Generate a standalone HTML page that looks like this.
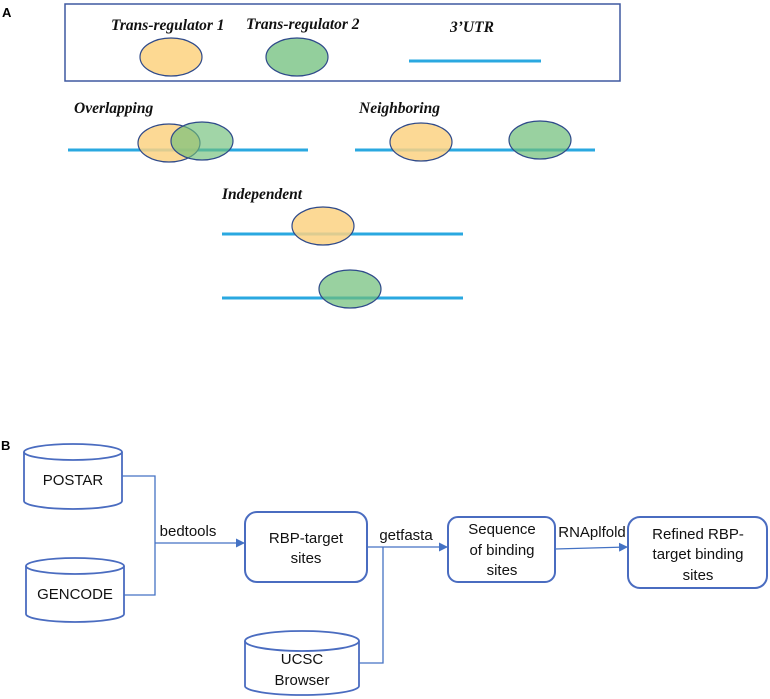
<!DOCTYPE html>
<html><head><meta charset="utf-8"><style>html,body{margin:0;padding:0;background:#fff;overflow:hidden}svg{display:block}</style></head>
<body>
<svg width="770" height="699" viewBox="0 0 770 699" xmlns="http://www.w3.org/2000/svg">
<defs>
<marker id="ar" markerWidth="9" markerHeight="9" refX="8" refY="4.5" orient="auto" markerUnits="userSpaceOnUse"><path d="M0,0 L9,4.5 L0,9 z" fill="#4472c4"/></marker>
</defs>
<g font-family="Liberation Sans, Arial, sans-serif" font-weight="bold" font-size="13">
<text x="2" y="17">A</text><text x="1" y="450">B</text></g>
<!-- Panel A -->
<rect x="65" y="4" width="555" height="77" fill="none" stroke="#3f58a0" stroke-width="1.5"/>
<g font-family="Liberation Serif, serif" font-style="italic" font-weight="bold" font-size="15.5" fill="#111">
<text x="111" y="30">Trans-regulator 1</text>
<text x="246" y="29">Trans-regulator 2</text>
<text x="450" y="32">3’UTR</text>
<text x="74" y="113">Overlapping</text>
<text x="359" y="113">Neighboring</text>
<text x="222" y="199">Independent</text>
</g>
<g stroke="#2aa8e0" stroke-width="3">
<line x1="409" y1="61" x2="541" y2="61"/>
<line x1="68" y1="150" x2="308" y2="150"/>
<line x1="355" y1="150" x2="595" y2="150"/>
<line x1="222" y1="234" x2="463" y2="234"/>
<line x1="222" y1="298" x2="463" y2="298"/>
</g>
<g stroke="#2f4a8a" stroke-width="1.2">
<ellipse cx="171" cy="57" rx="31" ry="19" fill="#fdd992"/>
<ellipse cx="297" cy="57" rx="31" ry="19" fill="#93cf9c"/>
<ellipse cx="169" cy="143" rx="31" ry="19" fill="rgba(252,210,130,0.85)"/>
<ellipse cx="202" cy="141" rx="31" ry="19" fill="rgba(110,190,120,0.65)"/>
<ellipse cx="421" cy="142" rx="31" ry="19" fill="rgba(252,210,130,0.85)"/>
<ellipse cx="540" cy="140" rx="31" ry="19" fill="rgba(110,190,120,0.7)"/>
<ellipse cx="323" cy="226" rx="31" ry="19" fill="rgba(252,210,130,0.85)"/>
<ellipse cx="350" cy="289" rx="31" ry="19" fill="rgba(110,190,120,0.7)"/>
</g>
<!-- Panel B -->
<g fill="none" stroke="#4a6cc0" stroke-width="1.8">
<path d="M24,452 L24,501 A49,8 0 0 0 122,501 L122,452"/>
<ellipse cx="73" cy="452" rx="49" ry="8"/>
<path d="M26,566 L26,614 A49,8 0 0 0 124,614 L124,566"/>
<ellipse cx="75" cy="566" rx="49" ry="8"/>
<path d="M245,641 L245,686 A57,9 0 0 0 359,686 L359,641"/>
<ellipse cx="302" cy="641" rx="57" ry="10"/>
<rect x="245" y="512" width="122" height="70" rx="12" stroke-width="2"/>
<rect x="448" y="517" width="107" height="65" rx="10" stroke-width="2"/>
<rect x="628" y="517" width="139" height="71" rx="12" stroke-width="2"/>
</g>
<g fill="none" stroke="#4472c4" stroke-width="1.3">
<polyline points="122,476 155,476 155,595 124,595"/>
<line x1="155" y1="543" x2="244" y2="543" marker-end="url(#ar)"/>
<line x1="367" y1="547" x2="447" y2="547" marker-end="url(#ar)"/>
<polyline points="383,547 383,663 359,663"/>
<line x1="555" y1="549" x2="627" y2="547" marker-end="url(#ar)"/>
</g>
<g font-family="Liberation Sans, Arial, sans-serif" font-size="15" fill="#111" text-anchor="middle">
<text x="73" y="485">POSTAR</text>
<text x="75" y="599">GENCODE</text>
<text x="306" y="543">RBP-target</text>
<text x="306" y="563">sites</text>
<text x="502" y="534">Sequence</text>
<text x="502" y="555">of binding</text>
<text x="502" y="575">sites</text>
<text x="698" y="539">Refined RBP-</text>
<text x="698" y="559">target binding</text>
<text x="698" y="580">sites</text>
<text x="302" y="664">UCSC</text>
<text x="302" y="685">Browser</text>
<text x="188" y="536">bedtools</text>
<text x="406" y="540">getfasta</text>
<text x="592" y="537">RNAplfold</text>
</g>
</svg>
</body></html>
